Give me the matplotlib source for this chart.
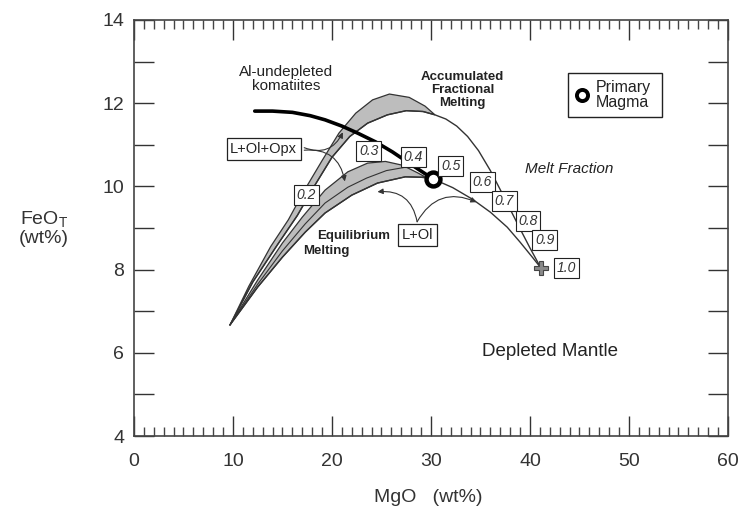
import numpy as np
import matplotlib.pyplot as plt
from matplotlib.patches import Rectangle, Polygon
from matplotlib.ticker import MultipleLocator

plt.rcParams['font.family'] = ['Liberation Sans', 'DejaVu Sans']

# accumulated fractional melting, L+Ol+Opx band (outer edge)
frac_outer_x = [9.7, 11.6, 13.8, 15.6, 17.2, 19.0, 20.7, 22.4, 24.1, 25.8, 27.8, 29.4, 30.4]
frac_outer_y = [6.67, 7.6, 8.55, 9.2, 9.9, 10.62, 11.28, 11.76, 12.08, 12.22, 12.14, 11.93, 11.72]
# accumulated fractional melting curve
frac_x = [9.7, 12.0, 14.5, 16.5, 18.2, 20.0, 21.8, 23.6, 25.6, 27.5, 29.2, 30.4,
          31.5, 32.6, 33.7, 34.8, 36.0, 37.0, 38.0, 39.0, 40.0, 41.1]
frac_y = [6.67, 7.7, 8.6, 9.3, 10.0, 10.7, 11.2, 11.52, 11.72, 11.82, 11.8, 11.72,
          11.62, 11.45, 11.2, 10.86, 10.38, 9.92, 9.45, 8.98, 8.52, 8.04]
# equilibrium melting, L+Ol+Opx band (upper edge)
eq_upper_x = [9.7, 12.5, 15.0, 17.0, 19.3, 21.6, 23.6, 25.4, 27.1, 28.7, 29.4]
eq_upper_y = [6.67, 7.75, 8.64, 9.26, 9.91, 10.35, 10.56, 10.6, 10.51, 10.32, 10.23]
eq_inner_x = [9.7, 12.5, 15.0, 17.3, 19.3, 21.6, 23.5, 25.5, 27.4]
eq_inner_y = [6.67, 7.65, 8.45, 9.1, 9.6, 9.98, 10.2, 10.38, 10.46]
# equilibrium melting curve
eq_x = [9.7, 12.5, 15.0, 17.3, 19.3, 22.0, 24.6, 27.4, 29.0, 30.2, 32.2, 34.2,
        36.0, 37.7, 39.0, 40.3, 41.1]
eq_y = [6.67, 7.58, 8.30, 8.90, 9.36, 9.79, 10.08, 10.23, 10.22, 10.18, 9.97, 9.69,
        9.38, 9.02, 8.66, 8.28, 8.04]
# Al-undepleted komatiites trend
kom_x = [12.2, 14.0, 16.0, 17.8, 19.3, 21.0, 22.6, 24.4, 26.1, 28.1, 30.2]
kom_y = [11.81, 11.81, 11.78, 11.7, 11.6, 11.45, 11.28, 11.07, 10.83, 10.51, 10.18]

primary = (30.2, 10.18)
mantle = (41.1, 8.04)

melt_labels = ['0.2', '0.3', '0.4', '0.5', '0.6', '0.7', '0.8', '0.9', '1.0']
melt_box_x = [17.4, 23.7, 28.2, 32.0, 35.2, 37.4, 39.8, 41.5, 43.7]
melt_box_y = [9.79, 10.85, 10.7, 10.49, 10.1, 9.65, 9.17, 8.71, 8.04]

fig = plt.figure(figsize=(7.43, 5.18), dpi=100)
ax = fig.add_axes([0.1803, 0.1583, 0.7995, 0.8031])

line_c = '#333333'
gray = '#bdbdbd'

# bands
n_tip = frac_x.index(30.4) + 1
poly_up = list(zip(frac_outer_x, frac_outer_y)) + list(zip(frac_x[:n_tip], frac_y[:n_tip]))[::-1]
ax.add_patch(Polygon(poly_up, closed=True, fc=gray, ec=line_c, lw=0.9, zorder=1))
n_m = eq_x.index(29.0) + 1
poly_lo = list(zip(eq_upper_x, eq_upper_y)) + list(zip(eq_x[:n_m], eq_y[:n_m]))[::-1]
ax.add_patch(Polygon(poly_lo, closed=True, fc=gray, ec=line_c, lw=0.9, zorder=1))

ax.plot(frac_x, frac_y, color=line_c, lw=1.0, zorder=2)
ax.plot(eq_x, eq_y, color=line_c, lw=1.0, zorder=2)
ax.plot(eq_inner_x, eq_inner_y, color=line_c, lw=0.8, zorder=2)
ax.plot(kom_x, kom_y, color='black', lw=2.6, solid_capstyle='round', zorder=3)

ax.plot(*primary, 'o', ms=10, mfc='white', mec='black', mew=3.2, zorder=5)
ax.plot(*mantle, 'P', ms=10, mfc='#8a8a8a', mec='#444444', mew=0.8, zorder=5)

for lab, bx, by in zip(melt_labels, melt_box_x, melt_box_y):
    ax.text(bx, by, lab, ha='center', va='center', fontsize=10, style='italic',
            color='#333333', zorder=6,
            bbox=dict(boxstyle='square,pad=0.2', fc='white', ec='#222222', lw=0.8))

# label boxes and arrows
box = dict(boxstyle='square,pad=0.25', fc='white', ec='#222222', lw=0.9)
ax.text(13.1, 10.9, 'L+Ol+Opx', ha='center', va='center', fontsize=10.5,
        color='#222222', bbox=box, zorder=6)
ax.text(28.6, 8.83, 'L+Ol', ha='center', va='center', fontsize=10.5,
        color='#222222', bbox=box, zorder=6)
arr = dict(arrowstyle='-|>', color='#333333', lw=0.8, mutation_scale=8, shrinkA=0, shrinkB=0)
ax.annotate('', xy=(21.1, 11.3), xytext=(17.2, 10.93),
            arrowprops=dict(arr, connectionstyle='arc3,rad=0.45'), zorder=4)
ax.annotate('', xy=(21.3, 10.12), xytext=(17.2, 10.87),
            arrowprops=dict(arr, connectionstyle='arc3,rad=-0.45'), zorder=4)
ax.annotate('', xy=(24.6, 9.87), xytext=(28.6, 9.15),
            arrowprops=dict(arr, connectionstyle='arc3,rad=0.45'), zorder=4)
ax.annotate('', xy=(34.6, 9.62), xytext=(28.6, 9.15),
            arrowprops=dict(arr, connectionstyle='arc3,rad=-0.45'), zorder=4)

# annotations
tc = '#222222'
ax.text(15.4, 12.58, 'Al-undepleted\nkomatiites', ha='center', va='center',
        fontsize=11, color=tc, linespacing=1.05)
ax.text(33.2, 12.32, 'Accumulated\nFractional\nMelting', ha='center', va='center',
        fontsize=9.5, fontweight='bold', color=tc, linespacing=1.1)
ax.text(22.2, 8.81, 'Equilibrium', ha='center', va='center', fontsize=9.5,
        fontweight='bold', color=tc)
ax.text(19.4, 8.45, 'Melting', ha='center', va='center', fontsize=9.5,
        fontweight='bold', color=tc)
ax.text(44.0, 10.42, 'Melt Fraction', ha='center', va='center', fontsize=11,
        style='italic', color=tc)
ax.text(42.0, 6.02, 'Depleted Mantle', ha='center', va='center', fontsize=13.5,
        color=tc)

# primary magma key
ax.add_patch(Rectangle((43.8, 11.67), 9.5, 1.06, fc='white', ec='#222222', lw=1.0, zorder=4))
ax.plot(45.25, 12.2, 'o', ms=8, mfc='white', mec='black', mew=2.8, zorder=5)
ax.text(46.6, 12.2, 'Primary\nMagma', ha='left', va='center', fontsize=11.5,
        color=tc, linespacing=1.0, zorder=5)

ax.set_xlim(0, 60)
ax.set_ylim(4, 14)
ax.xaxis.set_major_locator(MultipleLocator(10))
ax.xaxis.set_minor_locator(MultipleLocator(1))
ax.yaxis.set_major_locator(MultipleLocator(2))
ax.yaxis.set_minor_locator(MultipleLocator(1))
ax.tick_params(axis='x', which='major', direction='in', length=14.5, width=1.0,
               top=True, bottom=True, labelsize=14, pad=12, colors='#333333')
ax.tick_params(axis='x', which='minor', direction='in', length=6.5, width=1.0,
               top=True, bottom=True, colors='#444444')
ax.tick_params(axis='y', which='both', direction='in', length=14.5, width=1.0,
               left=True, right=True, labelsize=14, pad=7, colors='#333333')
for s in ax.spines.values():
    s.set_linewidth(1.2)
    s.set_color('#444444')

fig.text(428 / 743, 1 - 497 / 518, 'MgO   (wt%)', ha='center', va='center',
         fontsize=14, color='#333333')
fig.text(44 / 743, 1 - 228 / 518, 'FeO$_\\mathregular{T}$\n(wt%)', ha='center', va='center',
         fontsize=14, color='#333333', linespacing=1.0)

fig.savefig('out.png', dpi=100)
